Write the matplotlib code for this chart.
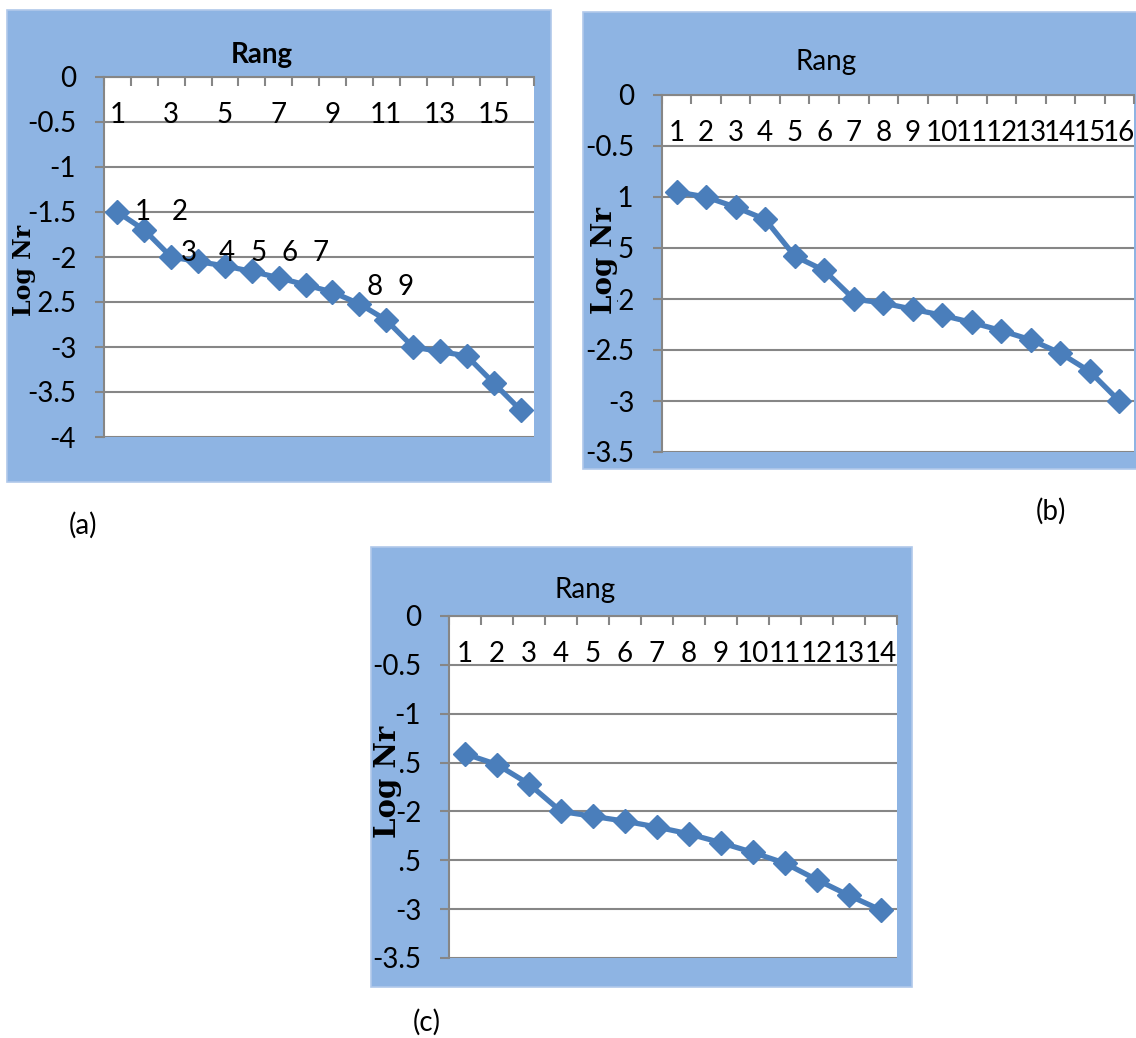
import matplotlib
matplotlib.use("Agg")
import matplotlib.pyplot as plt
from matplotlib.patches import Rectangle
from matplotlib.ticker import FuncFormatter

# --- data ---
rang_a = list(range(1, 17))
lognr_a = [-1.5, -1.7, -2.0, -2.05, -2.1, -2.16, -2.23, -2.31, -2.39, -2.52,
           -2.7, -3.0, -3.05, -3.1, -3.4, -3.7]
xlabels_a = ['1', '3', '5', '7', '9', '11', '13', '15']
# stray numbers written over plot (a)
ann_a_text = ['1', '2', '3', '4', '5', '6', '7', '8', '9']
ann_a_x = [1.93, 3.31, 3.67, 5.07, 6.25, 7.41, 8.57, 10.59, 11.73]
ann_a_y = [-1.5, -1.5, -1.96, -1.96, -1.96, -1.96, -1.96, -2.33, -2.33]

rang_b = list(range(1, 17))
lognr_b = [-0.95, -1.0, -1.1, -1.22, -1.58, -1.72, -2.0, -2.04, -2.1, -2.16,
           -2.23, -2.31, -2.4, -2.53, -2.71, -3.0]
xlabels_b = [str(r) for r in rang_b]

rang_c = list(range(1, 15))
lognr_c = [-1.41, -1.52, -1.72, -2.0, -2.05, -2.1, -2.16, -2.23, -2.32, -2.42,
           -2.53, -2.7, -2.86, -3.01]
xlabels_c = [str(r) for r in rang_c]

W, H = 1136, 1038
BLUE = '#8EB4E3'
LINE = '#4A7EBB'
GRID = '#868686'
FS = 20

plt.rcParams['font.family'] = 'Lato'


def fbox(x0, y0, x1, y1):
    return [x0 / W, 1 - y1 / H, (x1 - x0) / W, (y1 - y0) / H]


def rect(fig, r, z, edge='none'):
    fig.patches.append(Rectangle((r[0] / W, 1 - r[3] / H), (r[2] - r[0]) / W,
                                 (r[3] - r[1]) / H, transform=fig.transFigure,
                                 facecolor=BLUE, edgecolor=edge, lw=1.2, zorder=z))


def panel(fig, bg, area, x, y, xlabels, ymin, title_bold, title_pos,
          tag, tag_pos, covers, lab_pos, lab_size):
    rect(fig, bg, -1, edge='#B0C8EA')
    ax = fig.add_axes(fbox(*area))
    ax.set_facecolor('white')
    n = len(x)
    ax.plot(x, y, color=LINE, lw=3.8, marker='D', ms=12, mfc=LINE, mec=LINE,
            clip_on=False, zorder=3)
    ax.set_xlim(0.5, n + 0.5)
    ax.set_ylim(ymin, 0)
    ax.set_yticks([-0.5 * k for k in range(int(round(-ymin / 0.5)) + 1)])
    ax.yaxis.set_major_formatter(FuncFormatter(lambda v, p: '%g' % (v + 0.0)))
    ax.yaxis.grid(True, color=GRID, lw=1.5)
    ax.set_axisbelow(True)
    ax.tick_params(axis='y', direction='out', length=6.5, width=1.5, color=GRID,
                   pad=13.5, labelsize=FS)
    ax.xaxis.tick_top()
    ax.set_xticks([k + 0.5 for k in range(n + 1)])
    ax.set_xticklabels([])
    ax.tick_params(axis='x', direction='in', length=6.5, width=1.5, color=GRID)
    for s in ['right', 'bottom']:
        ax.spines[s].set_visible(False)
    for s in ['left', 'top']:
        ax.spines[s].set_color(GRID)
        ax.spines[s].set_linewidth(1.5)
    # category labels sit inside the plot just under the top axis
    step = n // len(xlabels)
    ylab = 1 - 38 / (area[3] - area[1])
    for i, lab in enumerate(xlabels):
        ax.text(1 + i * step, ylab, lab, transform=ax.get_xaxis_transform(),
                ha='center', va='center', fontsize=FS)
    fig.text(title_pos[0] / W, 1 - title_pos[1] / H, 'Rang', ha='center', va='center',
             fontsize=FS, fontweight='bold' if title_bold else 'normal')
    fig.text(tag_pos[0] / W, 1 - tag_pos[1] / H, tag, ha='center', va='center', fontsize=FS)
    # the y label box hides part of the tick labels, as in the source
    for c in covers:
        rect(fig, c, 2)
    fig.text(lab_pos[0] / W, 1 - lab_pos[1] / H, 'Log Nr', rotation=90, ha='center',
             va='center', fontsize=lab_size, fontweight='bold', family='DejaVu Serif',
             zorder=4)
    return ax


fig = plt.figure(figsize=(W / 100, H / 100), dpi=100)

ax_a = panel(fig, (7, 10, 551, 482), (104, 77, 534, 437), rang_a, lognr_a, xlabels_a, -4,
             True, (262, 55), '(a)', (83, 525), [(8, 290, 37, 316)], (24, 270), 17)
for t, xx, yy in zip(ann_a_text, ann_a_x, ann_a_y):
    ax_a.text(xx, yy, t, ha='center', va='center', fontsize=FS, zorder=4)

panel(fig, (583, 12, 1140, 469), (662, 95, 1134, 452), rang_b, lognr_b, xlabels_b, -3.5,
      False, (826, 62), '(b)', (1051, 511), [(584, 186, 617, 314)], (604, 261), 20)

panel(fig, (371, 547, 912, 987), (449, 616, 897, 958), rang_c, lognr_c, xlabels_c, -3.5,
      False, (585, 590), '(c)', (427, 1022), [(372, 745, 399, 778), (372, 842, 399, 874)],
      (388, 782), 21)

fig.savefig('out.png', dpi=100, facecolor='white')
